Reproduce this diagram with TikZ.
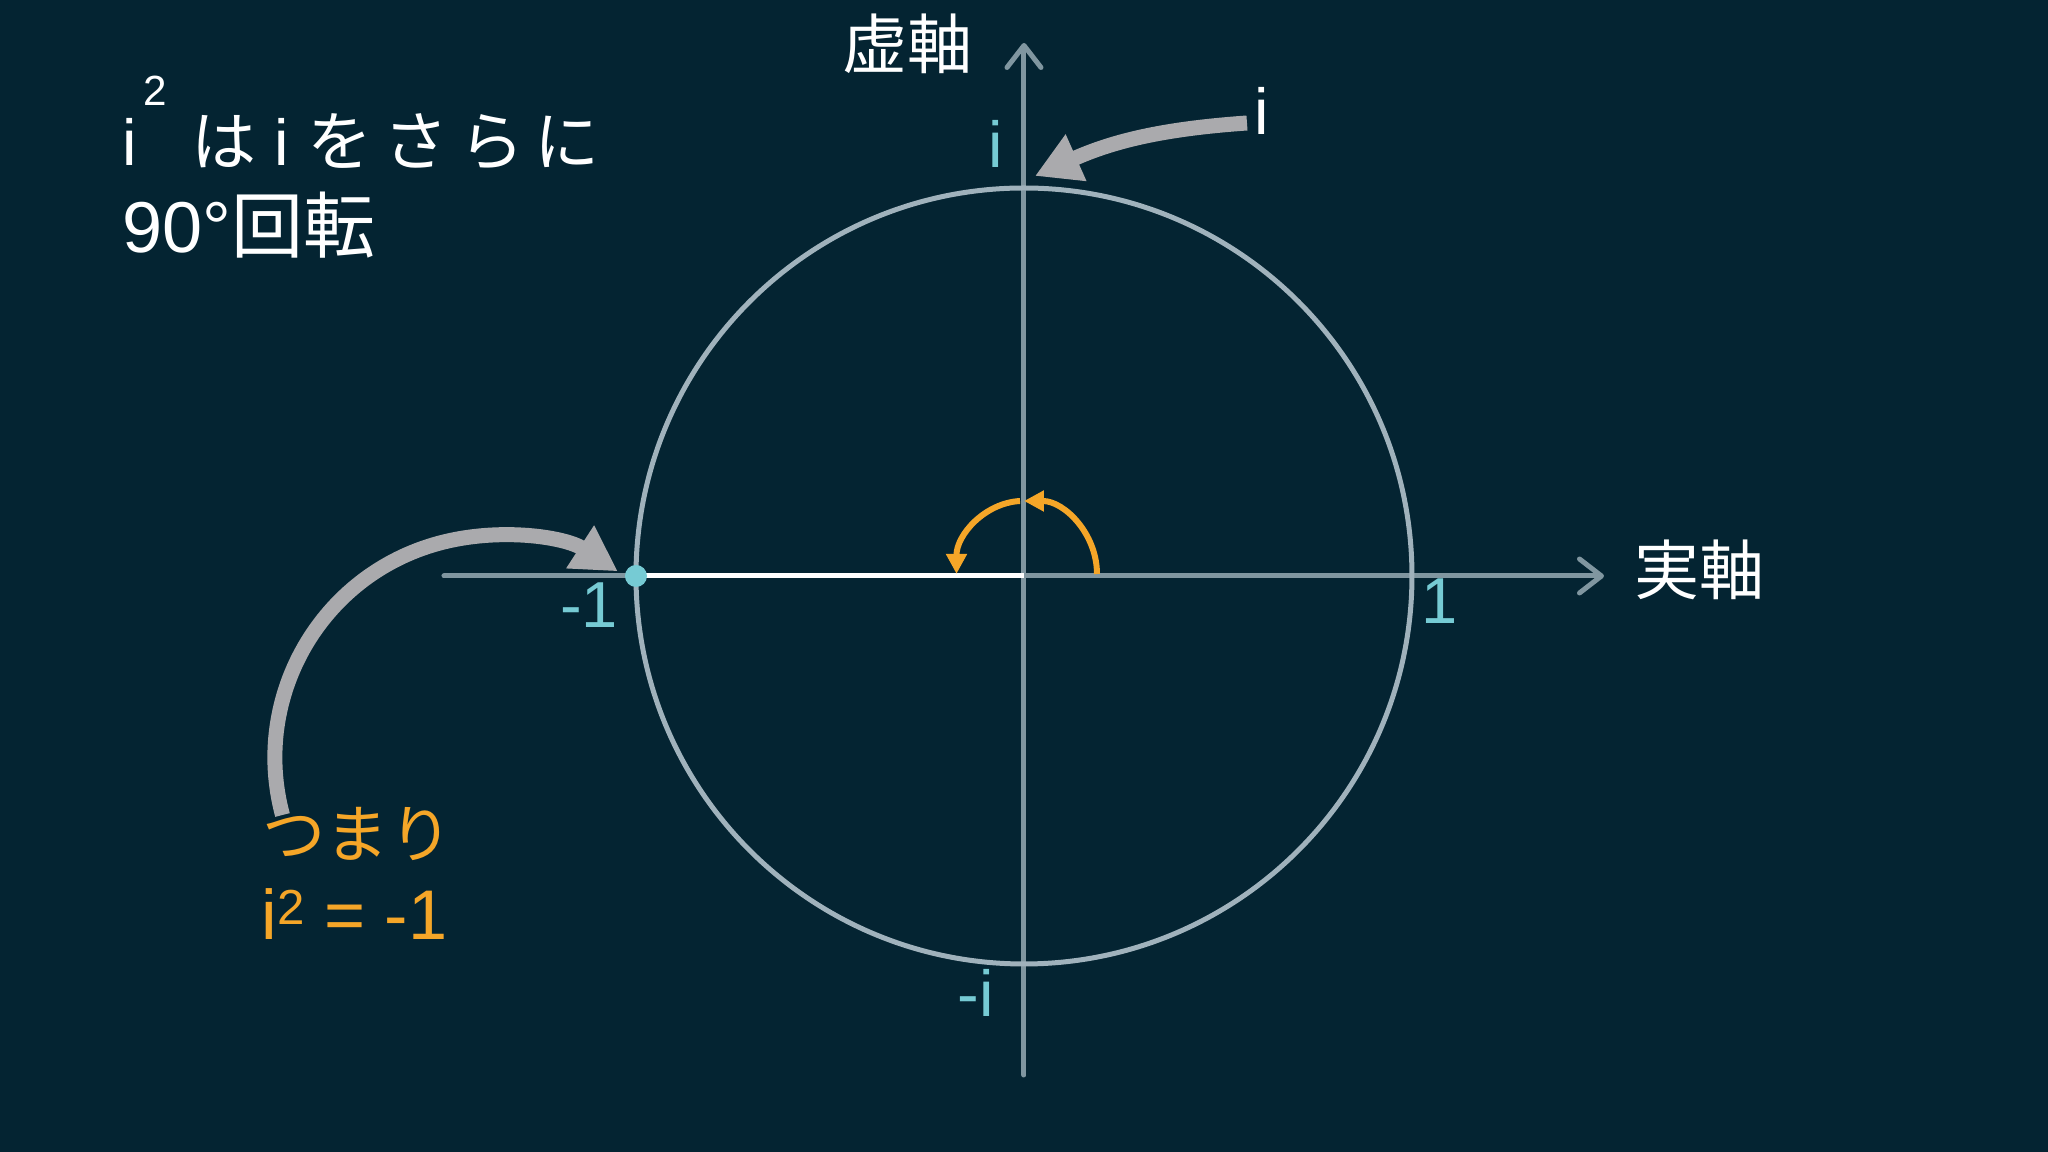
\documentclass[tikz,border=0pt]{standalone}
\usepackage{fontspec}
\setmainfont{Liberation Sans}
\newfontfamily\jp{Noto Sans CJK JP}
\usetikzlibrary{arrows.meta}

\definecolor{bgnavy}{RGB}{4,36,50}
\definecolor{axisgray}{RGB}{128,150,160}
\definecolor{circgray}{RGB}{160,178,188}
\definecolor{labcyan}{RGB}{118,203,212}
\definecolor{rotorange}{RGB}{245,166,40}
\definecolor{pointgray}{RGB}{170,170,173}

\begin{document}
\begin{tikzpicture}[
  axis/.style={draw=axisgray, line width=0.05cm, line cap=round, -{Straight Barb[length=0.22cm, width=0.34cm, line width=0.05cm, round]}},
  unitcirc/.style={draw=circgray, line width=0.05cm},
  rotarr/.style={draw=rotorange, line width=0.06cm, -{Triangle[length=0.2cm, width=0.2cm]}},
  pointer/.style={draw=pointgray, line width=0.15cm, -{Triangle[length=0.45cm, width=0.48cm]}},
  bigtxt/.style={text=white, inner sep=0pt, font=\fontsize{18.5pt}{22pt}\selectfont},
  axlab/.style={text=labcyan, inner sep=0pt, font=\fontsize{18.5pt}{22pt}\selectfont},
  every node/.style={inner sep=0pt}
]

% background
\fill[bgnavy] (-10.24,-5.76) rectangle (10.24,5.76);

% axes and unit circle
\draw[axis] (-5.80,0) -- (5.80,0);
\draw[axis] (0,-4.99) -- (0,5.33);
\draw[unitcirc] (0,0) circle[radius=3.88];

\node[bigtxt] (realax) at (6.76,0.06) {\jp 実軸};
\node[bigtxt] (imagax) at (-1.16,5.32) {\jp 虚軸};

% tick labels
\node[axlab] (one) at (4.16,-0.25) {1};
\node[axlab] (minusone) at (-4.35,-0.29) {-1};
\node[axlab] (iup) at (-0.28,4.32) {i};
\node[axlab] (idown) at (-0.48,-4.17) {-i};

% i^2 = -1 segment and point
\coordinate (origin) at (0,0);
\coordinate (mone) at (-3.88,0);
\draw[white, line width=0.05cm] (mone) -- (origin);
\node[circle, fill=labcyan, minimum size=0.22cm] (dot) at (mone) {};

% two quarter turns
\draw[rotarr] (0.73,0.02) arc[start angle=0, end angle=90, radius=0.73];
\draw[rotarr] (-0.04,0.75) arc[start angle=93, end angle=180, x radius=0.67, y radius=0.73];

% title
\node[bigtxt, anchor=base west] (title1) at (-9.02,4.10)
  {i\hspace{0.1em}\raisebox{0.6cm}{\fontsize{12pt}{12pt}\selectfont 2}\hspace{0.38em}{\jp は} i {\jp を}\,{\jp さ}\,{\jp ら}\,{\jp に}};
\node[bigtxt, anchor=base west, font=\fontsize{20.5pt}{24pt}\selectfont] (title2) at (-9.02,3.23) {90°{\jp 回転}};

% pointer from i
\node[bigtxt] (ilab) at (2.38,4.65) {i};
\coordinate (itip) at (0.11,4.00);
\draw[pointer] ([xshift=-0.15cm, yshift=-0.12cm]ilab.center) to[out=184, in=24] (itip);

% conclusion
\node[text=rotorange, anchor=west, font=\fontsize{18pt}{22pt}\selectfont] (tsumari) at (-7.62,-2.58) {\jp つまり};
\node[text=rotorange, anchor=base west, font=\fontsize{20pt}{24pt}\selectfont] (result) at (-7.63,-3.64)
  {i\raisebox{0.15cm}{\fontsize{14pt}{14pt}\selectfont 2} = -1};
\coordinate (tstart) at (-7.415,-2.39);
\draw[pointer] (tstart) arc[start angle=195, end angle=57, radius=2.22];

\end{tikzpicture}
\end{document}
